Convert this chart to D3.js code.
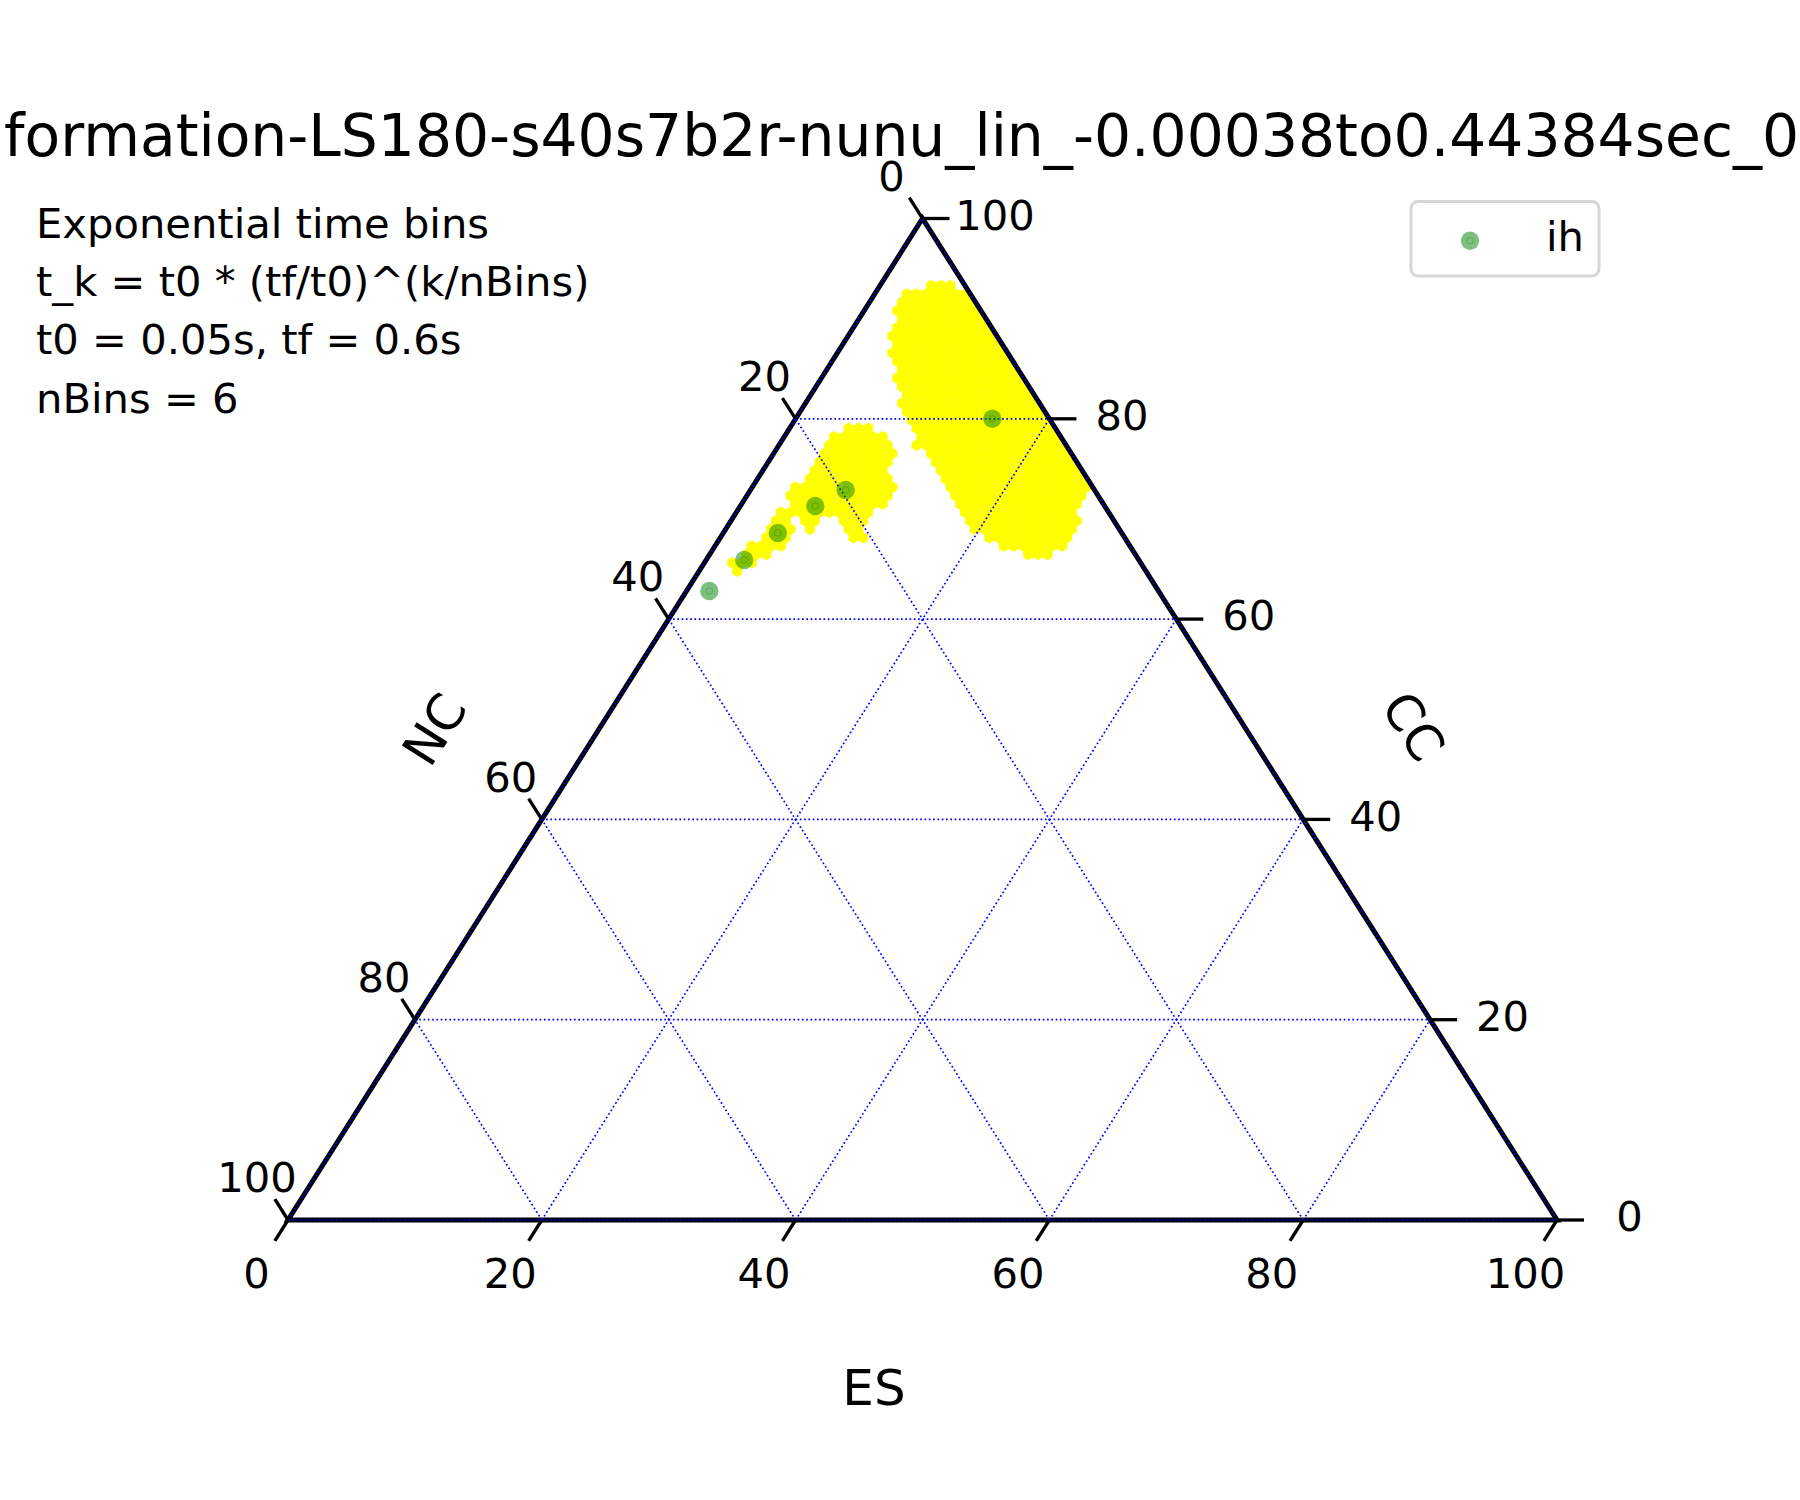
<!DOCTYPE html>
<html><head><meta charset="utf-8">
<script src="https://cdn.jsdelivr.net/npm/d3@7"></script>
<style>body{margin:0;background:#fff} svg{display:block} text{font-family:"DejaVu Sans",sans-serif;fill:#000}</style>
</head><body>
<script>
// ---------- data ----------
const titleText = "formation-LS180-s40s7b2r-nunu_lin_-0.00038to0.44384sec_0";
const infoLines = ["Exponential time bins", "t_k = t0 * (tf/t0)^(k/nBins)", "t0 = 0.05s, tf = 0.6s", "nBins = 6"];
const axisBottom = "ES", axisLeft = "NC", axisRight = "CC";
const tickValues = [0, 20, 40, 60, 80, 100];
const gridValues = [0, 20, 40, 60, 80];
const seriesName = "ih";
// ternary values (percent)
const ihES = [15.5, 7.5, 5.9, 4.3, 3.0, 1.8];
const ihCC = [80.0, 72.9, 71.3, 68.6, 65.9, 62.8];
const ihNC = [4.5, 19.6, 22.8, 27.1, 31.1, 35.4];
// yellow density regions (outline, ES / CC)
const bigBlobES = [3.3, 3.4, 4.4, 5.4, 6.6, 8.4, 26.8, 26.7, 26.4, 26.8, 27.8, 27.6, 27.1, 25.5, 23.9, 21.8, 20.4, 19.7, 17.4, 15.6, 14.0, 12.4, 10.9, 9.3, 7.8, 6.7, 5.9, 5.4, 4.3, 3.3, 3.2, 2.1, 2.5];
const bigBlobCC = [92.5, 93.5, 93.4, 93.6, 92.7, 93.9, 75.9, 73.9, 72.9, 71.2, 68.2, 67.6, 66.4, 66.4, 66.6, 67.6, 68.2, 68.9, 71.2, 72.6, 74.2, 75.9, 77.2, 79.2, 81.2, 82.6, 83.9, 85.2, 86.2, 88.2, 89.2, 91.5, 92.5];
const smallBlobES = [3.9, 4.3, 5.3, 6.5, 7.8, 9.0, 9.6, 9.8, 10.8, 11.3, 11.2, 11.2, 10.8, 11.1, 11.4, 11.4, 10.6, 9.8, 8.9, 7.6, 7.3, 7.2, 7.3, 6.6, 5.6, 5.0, 5.3, 5.2, 5.2, 4.8, 4.1, 3.7, 3.8, 3.4, 3.1, 2.5, 2.1, 2.2, 2.3, 2.7, 3.1, 3.1, 3.2, 3.2, 3.7, 3.2, 3.3, 3.8, 3.3, 3.4, 3.3, 3.2];
const smallBlobCC = [78.7, 79.4, 79.6, 79.2, 78.2, 77.2, 76.4, 75.2, 74.1, 72.9, 71.9, 70.9, 70.4, 69.2, 68.2, 67.4, 67.6, 68.6, 69.2, 70.4, 70.2, 69.4, 68.6, 68.7, 69.6, 69.9, 69.1, 68.2, 67.2, 66.4, 66.5, 66.2, 65.6, 64.9, 64.4, 64.7, 65.6, 66.2, 67.2, 67.5, 67.7, 68.4, 69.4, 70.6, 71.2, 72.2, 73.4, 74.1, 75.2, 76.1, 76.9, 77.9];

// ---------- setup ----------
const W = 1800, H = 1500;
const svg = d3.select("body").append("svg").attr("width", W).attr("height", H);
const hx = d3.scaleLinear().domain([0, 100]).range([288, 1557]);
const vy = d3.scaleLinear().domain([0, 100]).range([1220, 218.5]);
const proj = (es, cc) => [hx(es + cc / 2), vy(cc)];
const line = d3.line();

const corners = [proj(0, 0), proj(100, 0), proj(0, 100)];
svg.append("defs").append("clipPath").attr("id", "tri")
  .append("path").attr("d", line(corners) + "Z");

// ---------- yellow hex regions ----------
const hexR = 5.6, hexW = hexR * Math.sqrt(3), hexDY = hexR * 1.5;
const hexPath = d3.range(6).map(k => {
  const a = Math.PI / 3 * k + Math.PI / 6;
  return [hexR * Math.cos(a) * 1.04, hexR * Math.sin(a) * 1.04];
});
const hexD = line(hexPath) + "Z";
const gY = svg.append("g").attr("clip-path", "url(#tri)");
[[bigBlobES, bigBlobCC], [smallBlobES, smallBlobCC]].forEach(([es, cc]) => {
  const poly = es.map((e, i) => proj(e, cc[i]));
  const xs = poly.map(p => p[0]), ys = poly.map(p => p[1]);
  const j0 = Math.floor(d3.min(ys) / hexDY) - 1, j1 = Math.ceil(d3.max(ys) / hexDY) + 1;
  const centers = [];
  for (let j = j0; j <= j1; j++) {
    const off = (j % 2 === 0) ? 0 : hexW / 2;
    const i0 = Math.floor(d3.min(xs) / hexW) - 1, i1 = Math.ceil(d3.max(xs) / hexW) + 1;
    for (let i = i0; i <= i1; i++) {
      const c = [i * hexW + off, j * hexDY];
      if (d3.polygonContains(poly, c)) centers.push(c);
    }
  }
  gY.selectAll(null).data(centers).enter().append("path")
    .attr("d", hexD).attr("transform", d => `translate(${d[0]},${d[1]})`)
    .attr("fill", "#ffff00");
});

// ---------- triangle frame ----------
svg.append("path").attr("d", line(corners) + "Z")
  .attr("fill", "none").attr("stroke", "#000").attr("stroke-width", 5).attr("stroke-linejoin", "miter");

// ---------- grid ----------
const gridSegs = [];
gridValues.forEach(t => {
  gridSegs.push([proj(0, t), proj(100 - t, t)]);      // CC = t
  gridSegs.push([proj(t, 0), proj(t, 100 - t)]);      // ES = t
  gridSegs.push([proj(100 - t, 0), proj(0, 100 - t)]); // NC = t
});
svg.append("g").selectAll("path").data(gridSegs).enter().append("path")
  .attr("d", d => line(d)).attr("fill", "none")
  .attr("stroke", "#0000ff").attr("stroke-width", 1.7).attr("stroke-dasharray", "1.7,2.6");

// ---------- ticks ----------
const tickLen = 24.6;
const dirL = [-0.5354, 0.8446];   // bottom ticks outward
const dirU = [-0.5354, -0.8446];  // left ticks outward
const gT = svg.append("g").attr("stroke", "#000").attr("stroke-width", 3.3);
const gL = svg.append("g").style("font-size", "41.67px");
tickValues.forEach(t => {
  // bottom (ES)
  let p = proj(t, 0);
  gT.append("line").attr("x1", p[0]).attr("y1", p[1]).attr("x2", p[0] + dirL[0] * tickLen).attr("y2", p[1] + dirL[1] * tickLen);
  gL.append("text").attr("x", p[0] - 31.5).attr("y", p[1] + 53).attr("dy", "0.364em").attr("text-anchor", "middle").text(t);
  // left (NC)
  p = proj(0, 100 - t);
  gT.append("line").attr("x1", p[0]).attr("y1", p[1]).attr("x2", p[0] + dirU[0] * tickLen).attr("y2", p[1] + dirU[1] * tickLen);
  gL.append("text").attr("x", p[0] - 31).attr("y", p[1] - 43).attr("dy", "0.364em").attr("text-anchor", "middle").text(t);
  // right (CC)
  p = proj(100 - t, t);
  gT.append("line").attr("x1", p[0]).attr("y1", p[1]).attr("x2", p[0] + 27).attr("y2", p[1]);
  gL.append("text").attr("x", p[0] + 72.5).attr("y", p[1] - 4).attr("dy", "0.364em").attr("text-anchor", "middle").text(t);
});

// ---------- axis labels ----------
svg.append("text").attr("x", 874).attr("y", 1405).attr("text-anchor", "middle").style("font-size", "50px").text(axisBottom);
svg.append("text").attr("transform", "translate(434,729) rotate(-57.6)").attr("text-anchor", "middle").attr("dy", "0.364em").style("font-size", "50px").text(axisLeft);
svg.append("text").attr("transform", "translate(1414,726) rotate(57.6)").attr("text-anchor", "middle").attr("dy", "0.364em").style("font-size", "50px").text(axisRight);

// ---------- points ----------
const pts = ihES.map((e, i) => ({ p: proj(e, ihCC[i]), nc: ihNC[i] }));
const gP = svg.append("g");
pts.forEach(d => {
  gP.append("circle").attr("cx", d.p[0]).attr("cy", d.p[1]).attr("r", 9.2).attr("fill", "#008000").attr("fill-opacity", 0.5);
  gP.append("circle").attr("cx", d.p[0]).attr("cy", d.p[1]).attr("r", 3.3).attr("fill", "none").attr("stroke", "#008000").attr("stroke-opacity", 0.35).attr("stroke-width", 1);
});

// ---------- title ----------
svg.append("text").attr("x", 4).attr("y", 156).style("font-size", "58.3px").text(titleText);

// ---------- info text ----------
const gI = svg.append("g").style("font-size", "41.67px");
infoLines.forEach((s, i) => gI.append("text").attr("x", 36).attr("y", 238 + i * 58.2).text(s));

// ---------- legend ----------
const gLeg = svg.append("g");
gLeg.append("rect").attr("x", 1411).attr("y", 201.5).attr("width", 188).attr("height", 74.5).attr("rx", 7)
  .attr("fill", "#fff").attr("stroke", "#d6d6d6").attr("stroke-width", 3);
gLeg.append("circle").attr("cx", 1470).attr("cy", 240.7).attr("r", 9.2).attr("fill", "#008000").attr("fill-opacity", 0.5);
gLeg.append("circle").attr("cx", 1470).attr("cy", 240.7).attr("r", 3.3).attr("fill", "none").attr("stroke", "#008000").attr("stroke-opacity", 0.35).attr("stroke-width", 1);
gLeg.append("text").attr("x", 1546).attr("y", 251).style("font-size", "41.67px").text(seriesName);
</script>
</body></html>
